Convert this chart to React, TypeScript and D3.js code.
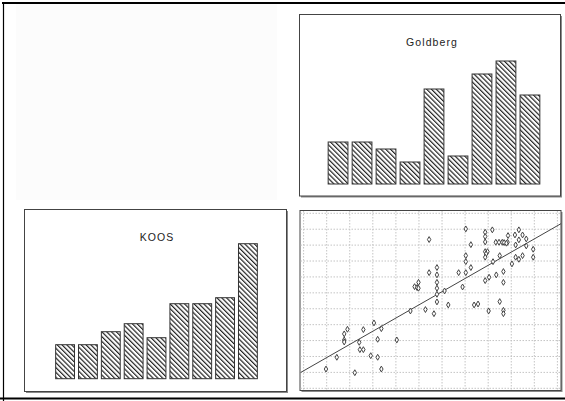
import React, { useEffect, useRef } from 'react';
import * as d3 from 'd3';

// bar chart categories (unlabelled in the picture)
const categories = ['1', '2', '3', '4', '5', '6', '7', '8', '9'];
const goldbergValues = [4.2, 4.2, 3.5, 2.2, 9.5, 2.8, 11.0, 12.3, 8.9];
const koosValues = [3.4, 3.4, 4.7, 5.5, 4.1, 7.5, 7.5, 8.1, 13.5];

// scatter (x, y), grid units
const scatterX = [
  0.97, 1.44, 1.76, 1.9, 1.76, 1.76, 2.22, 2.41, 2.44, 2.59, 2.59, 2.91, 3.05, 3.21, 3.21, 3.37, 3.37,
  4.04, 4.63, 4.81, 4.92, 4.98, 4.98, 5.28, 5.44, 5.44, 5.65, 5.78, 5.78, 5.78, 5.78, 5.78, 5.78,
  6.11, 6.27, 6.72, 6.89, 7.03, 7.03, 7.03, 7.03, 7.25, 7.25, 7.39, 7.56, 7.87, 7.87, 7.87, 7.87,
  7.97, 7.91, 7.87, 7.87, 8.04, 8.18, 8.21, 8.33, 8.47, 8.61, 8.35, 8.5, 8.5, 8.66, 8.66, 8.66,
  8.66, 8.02, 8.84, 8.86, 9.03, 9.16, 9.19, 9.19, 9.33, 9.33, 9.33, 9.49, 9.49, 9.65, 9.65, 9.95,
  9.95, 8.69, 8.79,
];
const scatterY = [
  1.21, 1.95, 3.42, 3.71, 3.04, 2.91, 0.98, 2.89, 2.43, 2.43, 3.69, 2.05, 4.11, 3.08, 1.95, 3.75, 1.21,
  3.04, 4.86, 6.39, 6.33, 6.29, 6.66, 4.95, 9.35, 7.27, 4.69, 7.59, 7.13, 6.66, 6.29, 5.91, 5.43,
  6.12, 5.24, 7.27, 6.37, 10.02, 8.34, 7.96, 7.27, 9.03, 7.59, 5.24, 5.3, 9.81, 9.54, 9.2, 8.59,
  8.59, 8.45, 8.24, 6.77, 6.98, 9.96, 7.96, 9.18, 9.18, 9.18, 7.13, 5.45, 8.34, 7.34, 6.66, 4.9,
  4.69, 4.86, 9.18, 9.6, 7.82, 9.64, 9.01, 8.24, 8.11, 9.96, 9.33, 9.64, 8.34, 9.39, 8.95, 8.74,
  8.24, 9.16, 9.12,
];
const fitIntercept = 1.1;
const fitSlope = 0.829;
const gridTicks = [0, 1, 2, 3, 4, 5, 6, 7, 8, 9, 10, 11];

const W = 565;
const H = 401;

function panel(svg: any, x0: number, y0: number, x1: number, y1: number) {
  const g = svg.append('g');
  g.append('rect')
    .attr('x', x0 + 1.5).attr('y', y0 + 1.5)
    .attr('width', x1 - x0).attr('height', y1 - y0)
    .attr('fill', '#8a8a8a');
  g.append('rect')
    .attr('x', x0).attr('y', y0)
    .attr('width', x1 - x0).attr('height', y1 - y0)
    .attr('fill', '#fff')
    .attr('stroke', '#444')
    .attr('stroke-width', 1);
  return g;
}

function barPanel(svg: any, box: number[], title: string, values: number[], bandRange: number[], base: number, titleX: number, titleY: number) {
  const [x0, y0, x1, y1] = box;
  const g = panel(svg, x0, y0, x1, y1);
  const x = d3.scaleBand().domain(categories).range(bandRange as [number, number]).paddingInner(0.175).paddingOuter(0.09);
  const y = d3.scaleLinear().domain([0, 14]).range([base, base - 140]);
  g.append('text')
    .attr('x', titleX).attr('y', titleY)
    .attr('text-anchor', 'middle')
    .attr('font-family', 'Arial, "Liberation Sans", sans-serif')
    .attr('font-size', 10.5)
    .attr('letter-spacing', 1.1)
    .attr('fill', '#222')
    .text(title);
  g.selectAll('rect.bar')
    .data(values)
    .join('rect')
    .attr('class', 'bar')
    .attr('x', (_d: number, i: number) => x(categories[i]) as number)
    .attr('width', x.bandwidth())
    .attr('y', (d: number) => y(d))
    .attr('height', (d: number) => y(0) - y(d))
    .attr('fill', 'url(#hatch)')
    .attr('stroke', '#333')
    .attr('stroke-width', 1);
}

export default function App() {
  const ref = useRef<SVGSVGElement>(null);

  useEffect(() => {
    const svg = d3.select(ref.current);
    svg.selectAll('*').remove();

    const defs = svg.append('defs');
    const pat = defs.append('pattern')
      .attr('id', 'hatch')
      .attr('patternUnits', 'userSpaceOnUse')
      .attr('width', 3.4).attr('height', 3.4)
      .attr('patternTransform', 'rotate(-45)');
    pat.append('rect').attr('width', 3.4).attr('height', 3.4).attr('fill', '#fff');
    pat.append('line').attr('x1', 0.6).attr('y1', 0).attr('x2', 0.6).attr('y2', 3.4)
      .attr('stroke', '#222').attr('stroke-width', 1.2);
    defs.append('clipPath').attr('id', 'scClip')
      .append('rect').attr('x', 300.5).attr('y', 211).attr('width', 260.5).attr('height', 179);

    svg.append('rect').attr('width', W).attr('height', H).attr('fill', '#fff');
    svg.append('rect').attr('x', 16).attr('y', 4).attr('width', 261).attr('height', 196).attr('fill', '#fcfcfc');

    // outer frame
    svg.append('line').attr('x1', 2).attr('x2', W).attr('y1', 3).attr('y2', 3).attr('stroke', '#000').attr('stroke-width', 2.2);
    svg.append('line').attr('x1', 3.5).attr('x2', 3.5).attr('y1', 2).attr('y2', H).attr('stroke', '#000').attr('stroke-width', 1.2);
    svg.append('line').attr('x1', 0).attr('x2', W).attr('y1', 398.5).attr('y2', 398.5).attr('stroke', '#000').attr('stroke-width', 2.2);

    barPanel(svg, [299.5, 14.5, 560.5, 196], 'Goldberg', goldbergValues, [326, 542], 184, 432, 46);
    barPanel(svg, [24.5, 209.5, 286.5, 391.5], 'KOOS', koosValues, [53.6, 259.4], 378.7, 157, 241);

    // scatter panel
    const sg = panel(svg, 300, 210.5, 561, 390.5);
    const x = d3.scaleLinear().domain([0, 11]).range([303.6, 557.4]);
    const y = d3.scaleLinear().domain([0, 11]).range([388.3, 213.3]);

    sg.selectAll('line.gx').data(gridTicks).join('line')
      .attr('class', 'gx')
      .attr('x1', (d: number) => x(d)).attr('x2', (d: number) => x(d))
      .attr('y1', 211).attr('y2', 390)
      .attr('stroke', '#c4c4c4').attr('stroke-dasharray', '1.5,1.5');
    sg.selectAll('line.gy').data(gridTicks).join('line')
      .attr('class', 'gy')
      .attr('x1', 300.5).attr('x2', 560.5)
      .attr('y1', (d: number) => y(d)).attr('y2', (d: number) => y(d))
      .attr('stroke', '#c4c4c4').attr('stroke-dasharray', '1.5,1.5');

    const xs = [x.invert(300), x.invert(561)];
    sg.append('line')
      .attr('clip-path', 'url(#scClip)')
      .attr('x1', x(xs[0])).attr('y1', y(fitIntercept + fitSlope * xs[0]))
      .attr('x2', x(xs[1])).attr('y2', y(fitIntercept + fitSlope * xs[1]))
      .attr('stroke', '#444').attr('stroke-width', 1);

    const diamond = d3.symbol().type(d3.symbolDiamond).size(10);
    sg.selectAll('path.pt').data(scatterX).join('path')
      .attr('class', 'pt')
      .attr('d', diamond as any)
      .attr('transform', (_d: number, i: number) => `translate(${x(scatterX[i])},${y(scatterY[i])})`)
      .attr('fill', '#fff')
      .attr('stroke', '#444')
      .attr('stroke-width', 1);
  }, []);

  return (
    <svg ref={ref} width={W} height={H} style={{ position: 'absolute', left: 0, top: 0, display: 'block' }} />
  );
}
